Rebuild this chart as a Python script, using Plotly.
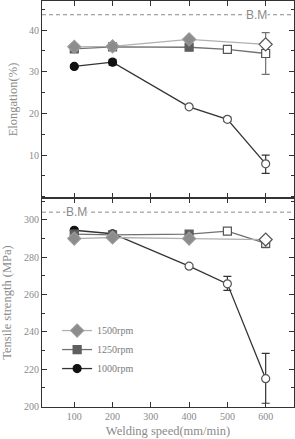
import plotly.graph_objects as go

speeds_1500 = [100, 200, 400, 600]
speeds_1250 = [100, 200, 400, 500, 600]
speeds_1000 = [100, 200, 400, 500, 600]

elong_1500 = [36.0, 36.1, 37.8, 36.6]
elong_1500_err = [0.8, 0.7, 0.5, 0.8]
elong_1500_open = [False, False, False, True]

elong_1250 = [35.5, 36.0, 35.9, 35.4, 34.4]
elong_1250_err_plus = [0.5, 0.8, 0.6, 0.3, 5.0]
elong_1250_err_minus = [0.5, 0.8, 0.6, 0.3, 5.0]
elong_1250_open = [False, False, False, True, True]

elong_1000 = [31.3, 32.3, 21.6, 18.6, 7.9]
elong_1000_err_plus = [0.3, 0.7, 0.3, 0.5, 2.1]
elong_1000_err_minus = [0.3, 0.7, 0.3, 0.5, 2.3]
elong_1000_open = [False, False, True, True, True]

ts_1500 = [290.0, 290.6, 290.0, 289.5]
ts_1500_err = [1.0, 0.8, 0.8, 1.0]

ts_1250 = [292.4, 292.0, 292.4, 294.0, 287.4]
ts_1250_err = [1.5, 1.0, 1.0, 1.0, 2.2]

ts_1000 = [294.5, 292.6, 275.2, 265.7, 214.8]
ts_1000_err_plus = [1.0, 0.5, 1.0, 4.0, 13.6]
ts_1000_err_minus = [1.0, 0.5, 1.0, 3.5, 13.2]

bm_elong = 43.7
bm_ts = 304.2

x_ticks = [100, 200, 300, 400, 500, 600]
names = ["1500rpm", "1250rpm", "1000rpm"]

SERIF = "Liberation Serif, DejaVu Serif, serif"

styles = {
    "1500rpm": dict(symbol="diamond", fill="#8c8c8c", edge="#9a9a9a", line="#b0b0b0", size=10),
    "1250rpm": dict(symbol="square", fill="#5e5e5e", edge="#5e5e5e", line="#707070", size=8),
    "1000rpm": dict(symbol="circle", fill="#111111", edge="#111111", line="#333333", size=8),
}

fig = go.Figure()


def add_series(name, xs, ys, eplus, eminus, opens, xa, ya, legend):
    st = styles[name]
    fills = ["white" if o else st["fill"] for o in opens]
    edges = ["#555555" if o else st["edge"] for o in opens]
    fig.add_trace(go.Scatter(
        x=xs, y=ys, xaxis=xa, yaxis=ya, name=name, showlegend=legend,
        mode="lines+markers",
        line=dict(color=st["line"], width=1.3),
        marker=dict(symbol=st["symbol"], size=st["size"], color=fills,
                    line=dict(color=edges, width=1.2)),
        error_y=dict(type="data", symmetric=False, array=eplus, arrayminus=eminus,
                     color=st["line"], thickness=1.2, width=4),
        legendrank={"1500rpm": 1, "1250rpm": 2, "1000rpm": 3}[name],
    ))


# top panel (elongation)
add_series("1000rpm", speeds_1000, elong_1000, elong_1000_err_plus, elong_1000_err_minus, elong_1000_open, "x", "y", False)
add_series("1250rpm", speeds_1250, elong_1250, elong_1250_err_plus, elong_1250_err_minus, elong_1250_open, "x", "y", False)
add_series("1500rpm", speeds_1500, elong_1500, elong_1500_err, elong_1500_err, elong_1500_open, "x", "y", False)
# bottom panel (tensile strength)
add_series("1000rpm", speeds_1000, ts_1000, ts_1000_err_plus, ts_1000_err_minus, elong_1000_open, "x2", "y2", True)
add_series("1250rpm", speeds_1250, ts_1250, ts_1250_err, ts_1250_err, elong_1250_open, "x2", "y2", True)
add_series("1500rpm", speeds_1500, ts_1500, ts_1500_err, ts_1500_err, elong_1500_open, "x2", "y2", True)

# B.M reference lines
for ya, val, tx in [("y", bm_elong, 0.897), ("y2", bm_ts, 0.09)]:
    fig.add_shape(type="line", xref=("x domain" if ya == "y" else "x2 domain"), yref=ya,
                  x0=0, x1=1, y0=val, y1=val,
                  line=dict(color="#8a8a8a", width=1, dash="4px,3px"))
    fig.add_annotation(xref=("x domain" if ya == "y" else "x2 domain"), yref=ya,
                       x=tx, y=val, text="B.M", showarrow=False,
                       font=dict(family="Liberation Sans, Arial, sans-serif", size=12, color="#8a8a8a"),
                       bgcolor="white", borderpad=0)

axis_common = dict(showline=True, linecolor="#333333", linewidth=1, mirror="ticks",
                   ticks="inside", ticklen=5, tickcolor="#333333", showgrid=False,
                   zeroline=False,
                   tickfont=dict(family=SERIF, size=10, color="#8a8a8a"))

split = (407 - 198) / 406
title_font = dict(family=SERIF, size=12.5, color="#8a8a8a")

fig.update_layout(
    width=295, height=439,
    margin=dict(l=42, r=1, t=1, b=32),
    plot_bgcolor="white", paper_bgcolor="white",
    showlegend=True,
    xaxis=dict(axis_common, range=[15.7, 674], tickvals=x_ticks, showticklabels=False,
               anchor="y", domain=[0, 1], matches="x2"),
    yaxis=dict(axis_common, range=[-0.3, 47], tickvals=[10, 20, 30, 40],
               minor=dict(dtick=5, tick0=0, ticks="inside", ticklen=3, tickcolor="#333333"),
               domain=[split, 1], anchor="x",
               title=dict(text="Elongation(%)", font=title_font, standoff=8)),
    xaxis2=dict(axis_common, range=[15.7, 674], tickvals=x_ticks, anchor="y2", domain=[0, 1],
                title=dict(text="Welding speed(mm/min)", font=title_font, standoff=5)),
    yaxis2=dict(axis_common, range=[199.6, 311.8], tickvals=[200, 220, 240, 260, 280, 300],
                minor=dict(dtick=10, tick0=200, ticks="inside", ticklen=3, tickcolor="#333333"),
                domain=[0, split], anchor="x2",
                title=dict(text="Tensile strength (MPa)", font=title_font, standoff=9)),
    legend=dict(x=0.06, y=0.224, xanchor="left", yanchor="top", bgcolor="rgba(0,0,0,0)",
                font=dict(family=SERIF, size=10, color="#7a7a7a"), itemwidth=30,
                traceorder="normal", tracegroupgap=0),
)

fig.write_html("out.html")
